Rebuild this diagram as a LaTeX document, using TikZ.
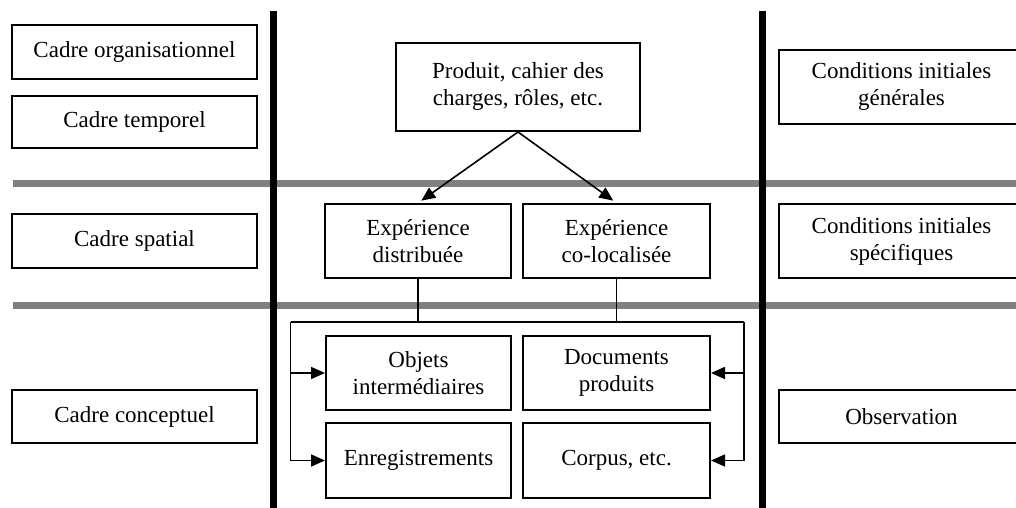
\documentclass[tikz,border=0pt]{standalone}
\usepackage{fontspec}
\setmainfont{Liberation Serif}
\usepackage{tikz}
\usetikzlibrary{arrows.meta}

\tikzset{
  boite/.style={draw, line width=2pt, align=center, inner sep=0pt,
    font=\fontsize{23}{27}\selectfont},
  lien/.style={line width=1.6pt},
  fleche/.style={lien, -{Triangle[length=14pt,width=12pt]}},
  sep/.style={line width=7pt, black},
  bande/.style={line width=7pt, black!50}
}

\begin{document}
\begin{tikzpicture}[x=1pt,y=-1pt]

\useasboundingbox (0,0) rectangle (1016,508);
\clip (0,0) rectangle (1016,508);

% separateurs
\draw[bande] (13,183.5) -- (1016,183.5);
\draw[bande] (13,305.5) -- (1016,305.5);
\draw[sep] (273.5,11) -- (273.5,508);
\draw[sep] (762,11) -- (762,508);

% colonne gauche
\node[boite, minimum width=245pt, minimum height=54pt] (org) at (134.5,52) {Cadre organisationnel};
\node[boite, minimum width=245pt, minimum height=52pt] (temp) at (134.5,122) {Cadre temporel};
\node[boite, minimum width=245pt, minimum height=54pt] (spat) at (134.5,241) {Cadre spatial};
\node[boite, minimum width=245pt, minimum height=53pt] (conc) at (134.5,416.5) {Cadre conceptuel};

% colonne droite
\node[boite, minimum width=245pt, minimum height=74pt] (gen) at (901.5,87) {Conditions initiales\\g\'en\'erales};
\node[boite, minimum width=245pt, minimum height=74pt] (spec) at (901.5,241) {Conditions initiales\\sp\'ecifiques};
\node[boite, minimum width=245pt, minimum height=53pt] (obs) at (901.5,416.5) {Observation};

% colonne centrale
\node[boite, minimum width=244pt, minimum height=88pt] (prod) at (518,87) {Produit, cahier des\\charges, r\^oles, etc.};
\node[boite, minimum width=186pt, minimum height=74pt] (dist) at (418,241) {Exp\'erience\\distribu\'ee};
\node[boite, minimum width=187pt, minimum height=74pt] (coloc) at (616.5,241) {Exp\'erience\\co-localis\'ee};
\node[boite, minimum width=185pt, minimum height=74pt] (obj) at (418.5,373) {Objets\\interm\'ediaires};
\node[boite, minimum width=187pt, minimum height=74pt] (doc) at (616.5,373) {Documents\\produits};
\node[boite, minimum width=185pt, minimum height=75pt] (enr) at (418.5,460.5) {Enregistrements};
\node[boite, minimum width=187pt, minimum height=75pt] (corp) at (616.5,460.5) {Corpus, etc.};

\draw[fleche, shorten >=4pt] (prod.south) -- (dist.north);
\draw[fleche, shorten >=4pt] (prod.south) -- (coloc.north);

\coordinate (cg) at (290.5,322);
\coordinate (cd) at (744,322);

\draw[lien] (dist.south) -- (dist.south |- cg);
\draw[lien] (coloc.south) -- (coloc.south |- cd);
\draw[lien] (cg) -- (cd);
\draw[fleche] (cg) |- (obj.west);
\draw[fleche] (cg) |- (enr.west);
\draw[fleche] (cd) |- (doc.east);
\draw[fleche] (cd) |- (corp.east);

\end{tikzpicture}
\end{document}
